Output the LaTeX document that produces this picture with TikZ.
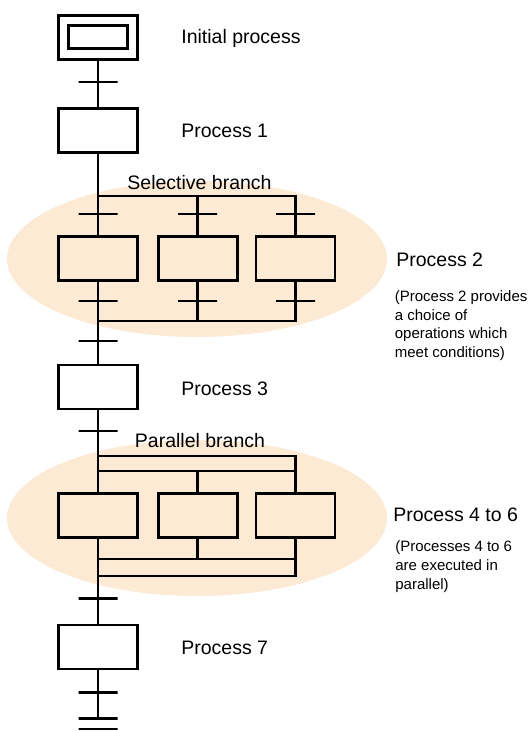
\documentclass[tikz,border=0pt]{standalone}
\usepackage{fontspec}
\setmainfont{Liberation Sans}
\usetikzlibrary{positioning}
\definecolor{glowc}{RGB}{253,234,212}
\pgfdeclareradialshading{glow}{\pgfpoint{0bp}{0bp}}{color(0bp)=(glowc);
  color(27bp)=(glowc);color(50bp)=(white)}

\begin{document}
\begin{tikzpicture}[x=1pt,y=-1pt,line width=2.7pt,
    stepbox/.style={draw,minimum width=79pt,minimum height=44pt,inner sep=0pt},
    trans/.style={draw,minimum width=39pt,minimum height=0pt,inner sep=0pt},
    lbl/.style={anchor=base west,inner sep=0pt,font=\fontsize{19.5}{23}\selectfont},
    note/.style={anchor=base west,inner sep=0pt,align=left,
      font=\fontsize{15}{18.7}\selectfont}]
  \useasboundingbox (0,0) rectangle (530,731);
  % shaded areas behind the branches
  \shade[shading=glow] (197,259) ellipse [x radius=190pt,y radius=78pt];
  \shade[shading=glow] (197,518) ellipse [x radius=190pt,y radius=78pt];

  % initial step and process 1
  \node[stepbox] (init) at (98,37.3) {};
  \node[draw,minimum width=59pt,minimum height=23pt,inner sep=0pt] (initin) at (init) {};
  \node[trans] (t0) at (98,82) {};
  \node[stepbox] (p1) at (98,130.7) {};
  \draw (init) -- (t0) -- (p1);

  % selective branch
  \coordinate (sTop) at (98,196);
  \coordinate (sBot) at (98,321);
  \foreach \n/\x in {a/98,b/197.7,c/295.5}{
    \node[stepbox] (p2\n) at (\x,258.7) {};
    \node[trans] (t2\n) at (\x,214) {};
    \node[trans] (u2\n) at (\x,301) {};
  }
  \draw (p1) -- (sTop) -| (p2c);
  \draw (sTop) -- (p2a);
  \draw (sTop -| p2b) -- (p2b);
  \draw (p2c) |- (sBot);
  \draw (p2b) -- (sBot -| p2b);
  \draw (p2a) -- (sBot);

  % process 3
  \node[trans] (t3) at (98,341) {};
  \node[stepbox] (p3) at (98,387) {};
  \draw (sBot) -- (t3) -- (p3);

  % parallel branch
  \node[trans] (t4) at (98,431) {};
  \coordinate (pA) at (98,456);
  \coordinate (pB) at (98,471);
  \coordinate (pC) at (98,559);
  \coordinate (pD) at (98,576);
  \node[stepbox] (p4) at (98,515.7) {};
  \node[stepbox] (p5) at (197.7,515.7) {};
  \node[stepbox] (p6) at (295.5,515.7) {};
  \draw (p3) -- (t4) -- (p4);
  \draw (pA) -| (p6);
  \draw (pB) -- (pB -| p6);
  \draw (pB -| p5) -- (p5);
  \draw (p6) |- (pD);
  \draw (pC) -- (pC -| p6);
  \draw (p5) -- (pC -| p5);

  % process 7 and end
  \node[trans] (t7) at (98,598.3) {};
  \node[stepbox] (p7) at (98,647) {};
  \node[trans] (t8) at (98,692.3) {};
  \node[trans] (t9) at (98,718.3) {};
  \node[trans] (t10) at (98,729) {};
  \draw (p4) -- (t7) -- (p7);
  \draw (p7) -- (t8) -- (t9);

  % labels (base of a note is its last line)
  \node[lbl] (lInit) at (180,43.3) {Initial process};
  \node[lbl] (l1) at (180,137.3) {Process 1};
  \node[lbl,anchor=base] (lSel) at (199.5,189) {Selective branch};
  \node[lbl] (l2) at (395,266) {Process 2};
  \node[note] (n2) at (393.5,357.6) {(Process 2 provides\\a choice of\\operations which\\meet conditions)};
  \node[lbl] (l3) at (180,395) {Process 3};
  \node[lbl,anchor=base] (lPar) at (200,447.3) {Parallel branch};
  \node[lbl] (l4) at (392,521.7) {Process 4 to 6};
  \node[note] (n4) at (394,589) {(Processes 4 to 6\\are executed in\\parallel)};
  \node[lbl] (l7) at (180,654) {Process 7};
\end{tikzpicture}
\end{document}
